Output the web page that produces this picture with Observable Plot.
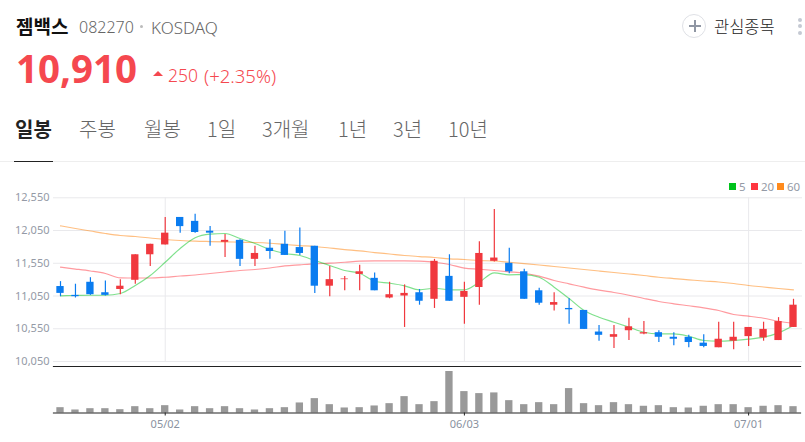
<!DOCTYPE html>
<html lang="ko"><head><meta charset="utf-8">
<script src="https://cdn.jsdelivr.net/npm/d3@7"></script>
<script src="https://cdn.jsdelivr.net/npm/@observablehq/plot@0.6"></script>
<style>
html,body{margin:0;padding:0;background:#fff;width:805px;height:442px;overflow:hidden;font-family:"Noto Sans CJK KR","Noto Sans",sans-serif}
#page{position:relative;width:805px;height:442px}
.t{position:absolute;white-space:nowrap;line-height:1}
#price,#vol{position:absolute;left:0}
#price{top:175px}#vol{top:365px}
svg{display:block}
</style></head><body><div id="page"></div>
<script>
const opens=[11195,11060,11260,11100,11150,11290,11680,11830,12250,12190,12040,11870,11900,11610,11780,11840,11790,11810,11200,11300,11380,11320,11020,11050,11100,11000,11350,11030,11180,11580,11550,11420,11130,10910,10860,10830,10500,10420,10520,10470,10490,10420,10420,10330,10260,10360,10430,10410,10370,10570];
const closes=[11090,11040,11070,11060,11200,11680,11840,12010,12110,12020,12010,11900,11610,11700,11730,11670,11700,11200,11300,11310,11420,11130,11070,11090,10970,11580,10970,11120,11700,11630,11420,11000,10940,10950,10840,10540,10450,10460,10580,10490,10420,10390,10340,10280,10390,10420,10570,10540,10660,10910];
const highs=[11270,11230,11330,11280,11300,11680,11840,12250,12250,12300,12110,11990,11910,11810,11910,12040,12090,11810,11500,11350,11520,11400,11260,11220,11150,11610,11680,11260,11880,12370,11780,11460,11170,11100,11010,10830,10600,10600,10710,10660,10520,10490,10450,10460,10650,10650,10570,10650,10720,11000];
const lows=[11040,11020,11060,11050,11070,11230,11500,11830,12010,12010,11810,11640,11500,11500,11610,11670,11670,11090,11040,11130,11130,11130,11010,10570,10910,10860,10970,10620,10910,11570,11390,11000,10910,10820,10620,10540,10360,10250,10370,10460,10340,10290,10260,10260,10260,10230,10280,10360,10370,10570];
const ma5=[11053,11058,11062,11062,11088,11211,11363,11566,11776,11939,11994,12005,11928,11852,11760,11699,11669,11592,11516,11440,11398,11276,11246,11206,11145,11169,11145,11145,11261,11404,11374,11378,11337,11185,11012,10829,10726,10650,10574,10497,10473,10473,10436,10371,10360,10371,10391,10421,10488,10600];
const ma20=[11490,11462,11432,11394,11328,11325,11325,11337,11356,11371,11394,11417,11440,11455,11478,11511,11527,11542,11551,11566,11582,11588,11588,11588,11582,11566,11531,11475,11459,11440,11420,11398,11353,11287,11236,11185,11139,11104,11062,11012,10966,10931,10901,10870,10829,10768,10742,10711,10665,10635];
const ma60=[12122,12081,12043,12005,11974,11959,11936,11913,11898,11887,11882,11878,11872,11867,11856,11837,11821,11806,11783,11760,11740,11714,11692,11669,11653,11638,11618,11608,11592,11585,11566,11546,11524,11501,11478,11455,11432,11409,11386,11363,11337,11317,11298,11279,11264,11241,11211,11188,11165,11145];
const volumes=[53,30,43,43,33,63,43,73,30,63,43,63,43,30,43,53,100,143,83,50,53,70,93,163,83,113,413,213,193,200,123,83,103,83,243,93,73,103,83,67,73,53,50,67,83,83,53,67,73,63];
const priceTicks=[10050,10550,11050,11550,12050,12550];
const dateTickIndex=[7,27,46];
const dateTickLabels=["05/02","06/03","07/01"];
const maNames=["5","20","60"];
const maColors=["#00c31c","#ff3640","#ff8a1c"];
const tabs=["일봉","주봉","월봉","1일","3개월","1년","3년","10년"];
const tabX=[15,79,144,207,262,338,393,448];

const UP="#f0383e",DOWN="#0a7cf0",GRID="#e9e9ec";
const candles=opens.map((o,i)=>({i,o,c:closes[i],h:highs[i],l:lows[i],color:closes[i]>=o?UP:DOWN}));
const xScale={type:"linear",domain:[0,49],range:[60,793]};
const line=(vals,color,op)=>Plot.lineY(vals,{x:(d,i)=>i,y:d=>d,stroke:color,strokeOpacity:op,strokeWidth:1.2,curve:"monotone-x"});

const price=Plot.plot({width:805,height:192,marginLeft:53,marginRight:3,marginTop:0,marginBottom:0,
  style:{background:"#fff",fontFamily:"'Noto Sans',sans-serif"},
  x:{...xScale,axis:null},
  y:{domain:[10050,12550],range:[186,22.3]},
  marks:[
    Plot.ruleY(priceTicks,{stroke:GRID,strokeWidth:1}),
    Plot.ruleX(dateTickIndex,{y1:10050,y2:12550,stroke:GRID,strokeWidth:1}),
    Plot.axisY({ticks:priceTicks,tickSize:0,tickPadding:4,tickFormat:d3.format(","),fontSize:11,color:"#949aa6",label:null}),
    line(ma60,maColors[2],.55),
    line(ma20,maColors[1],.5),
    line(ma5,maColors[0],.5),
    Plot.ruleX(candles,{x:"i",y1:"l",y2:"h",stroke:"color",strokeWidth:1.2}),
    Plot.rect(candles,{x1:d=>d.i-.245,x2:d=>d.i+.245,y1:"o",y2:"c",fill:"color"})
  ]});

const vol=Plot.plot({width:805,height:77,marginLeft:53,marginRight:5,marginTop:1,marginBottom:29.5,
  style:{background:"transparent",fontFamily:"'Noto Sans',sans-serif",overflow:"visible"},
  x:{...xScale,axis:null},
  y:{domain:[0,413],range:[47.5,6],axis:null},
  marks:[
    Plot.rect(candles,{x1:d=>d.i-.245,x2:d=>d.i+.245,y1:0,y2:(d,i)=>volumes[i],fill:"#999"}),
    Plot.frame({anchor:"top",stroke:"#222",strokeWidth:1.2}),
    Plot.frame({anchor:"bottom",stroke:"#222",strokeWidth:1.2}),
    Plot.axisX({ticks:dateTickIndex,tickSize:3,tickPadding:4,tickFormat:d=>dateTickLabels[dateTickIndex.indexOf(d)],fontSize:11,color:"#8a92a0",stroke:"#222",label:null,anchor:"bottom"})
  ]});

const page=document.getElementById("page");
function txt(s,x,cy,size,color,weight=400,fam){
  const e=document.createElement("div");e.className="t";e.textContent=s;
  e.style.cssText=`left:${x}px;top:${cy-size/2}px;font-size:${size}px;color:${color};font-weight:${weight};`+(fam?`font-family:${fam};`:"");
  page.appendChild(e);return e;
}
function box(x,y,w,h,bg,extra=""){
  const e=document.createElement("div");
  e.style.cssText=`position:absolute;left:${x}px;top:${y}px;width:${w}px;height:${h}px;background:${bg};${extra}`;
  page.appendChild(e);return e;
}
price.id="price";vol.id="vol";
page.appendChild(price);page.appendChild(vol);

const NS="'Noto Sans','Noto Sans CJK KR',sans-serif", RED="#f5484f";
txt("젬백스",16,25,19,"#111",700);
txt("082270",79,27,16,"#666",300,NS);
box(140,25,3,3,"#bbb","border-radius:50%");
txt("KOSDAQ",151,27,17,"#666",300,NS);
txt("10,910",16,68,38.5,RED,700,NS);
box(153,71,10,5,RED,"clip-path:polygon(50% 0,100% 100%,0 100%)");
txt("250",168,76,17.5,RED,300,NS);
txt("(+2.35%)",204,76,18.5,RED,300,NS);
tabs.forEach((s,i)=>txt(s,tabX[i],129,20,i==0?"#222":"#666",i==0?700:300));
box(0,161,805,1,"#eee");
box(14,160.5,39,1.5,"#222");
box(682,14,22,22,"#fff","border:1.5px solid #dfe1e6;border-radius:50%");
box(689,25,12,2.4,"#8f96a3");box(693.8,20,2.4,12,"#8f96a3");
txt("관심종목",714,26,16.5,"#222",300);
[20,26,33].forEach(y=>box(798,y-2,4,4,"#c5c9d3","border-radius:50%"));
const legX=[729,751,777];
maNames.forEach((n,i)=>{box(legX[i],183,7,7,maColors[i]);txt(n,legX[i]+10,186.5,11.5,"#949aa6",400,NS);});
</script></body></html>
